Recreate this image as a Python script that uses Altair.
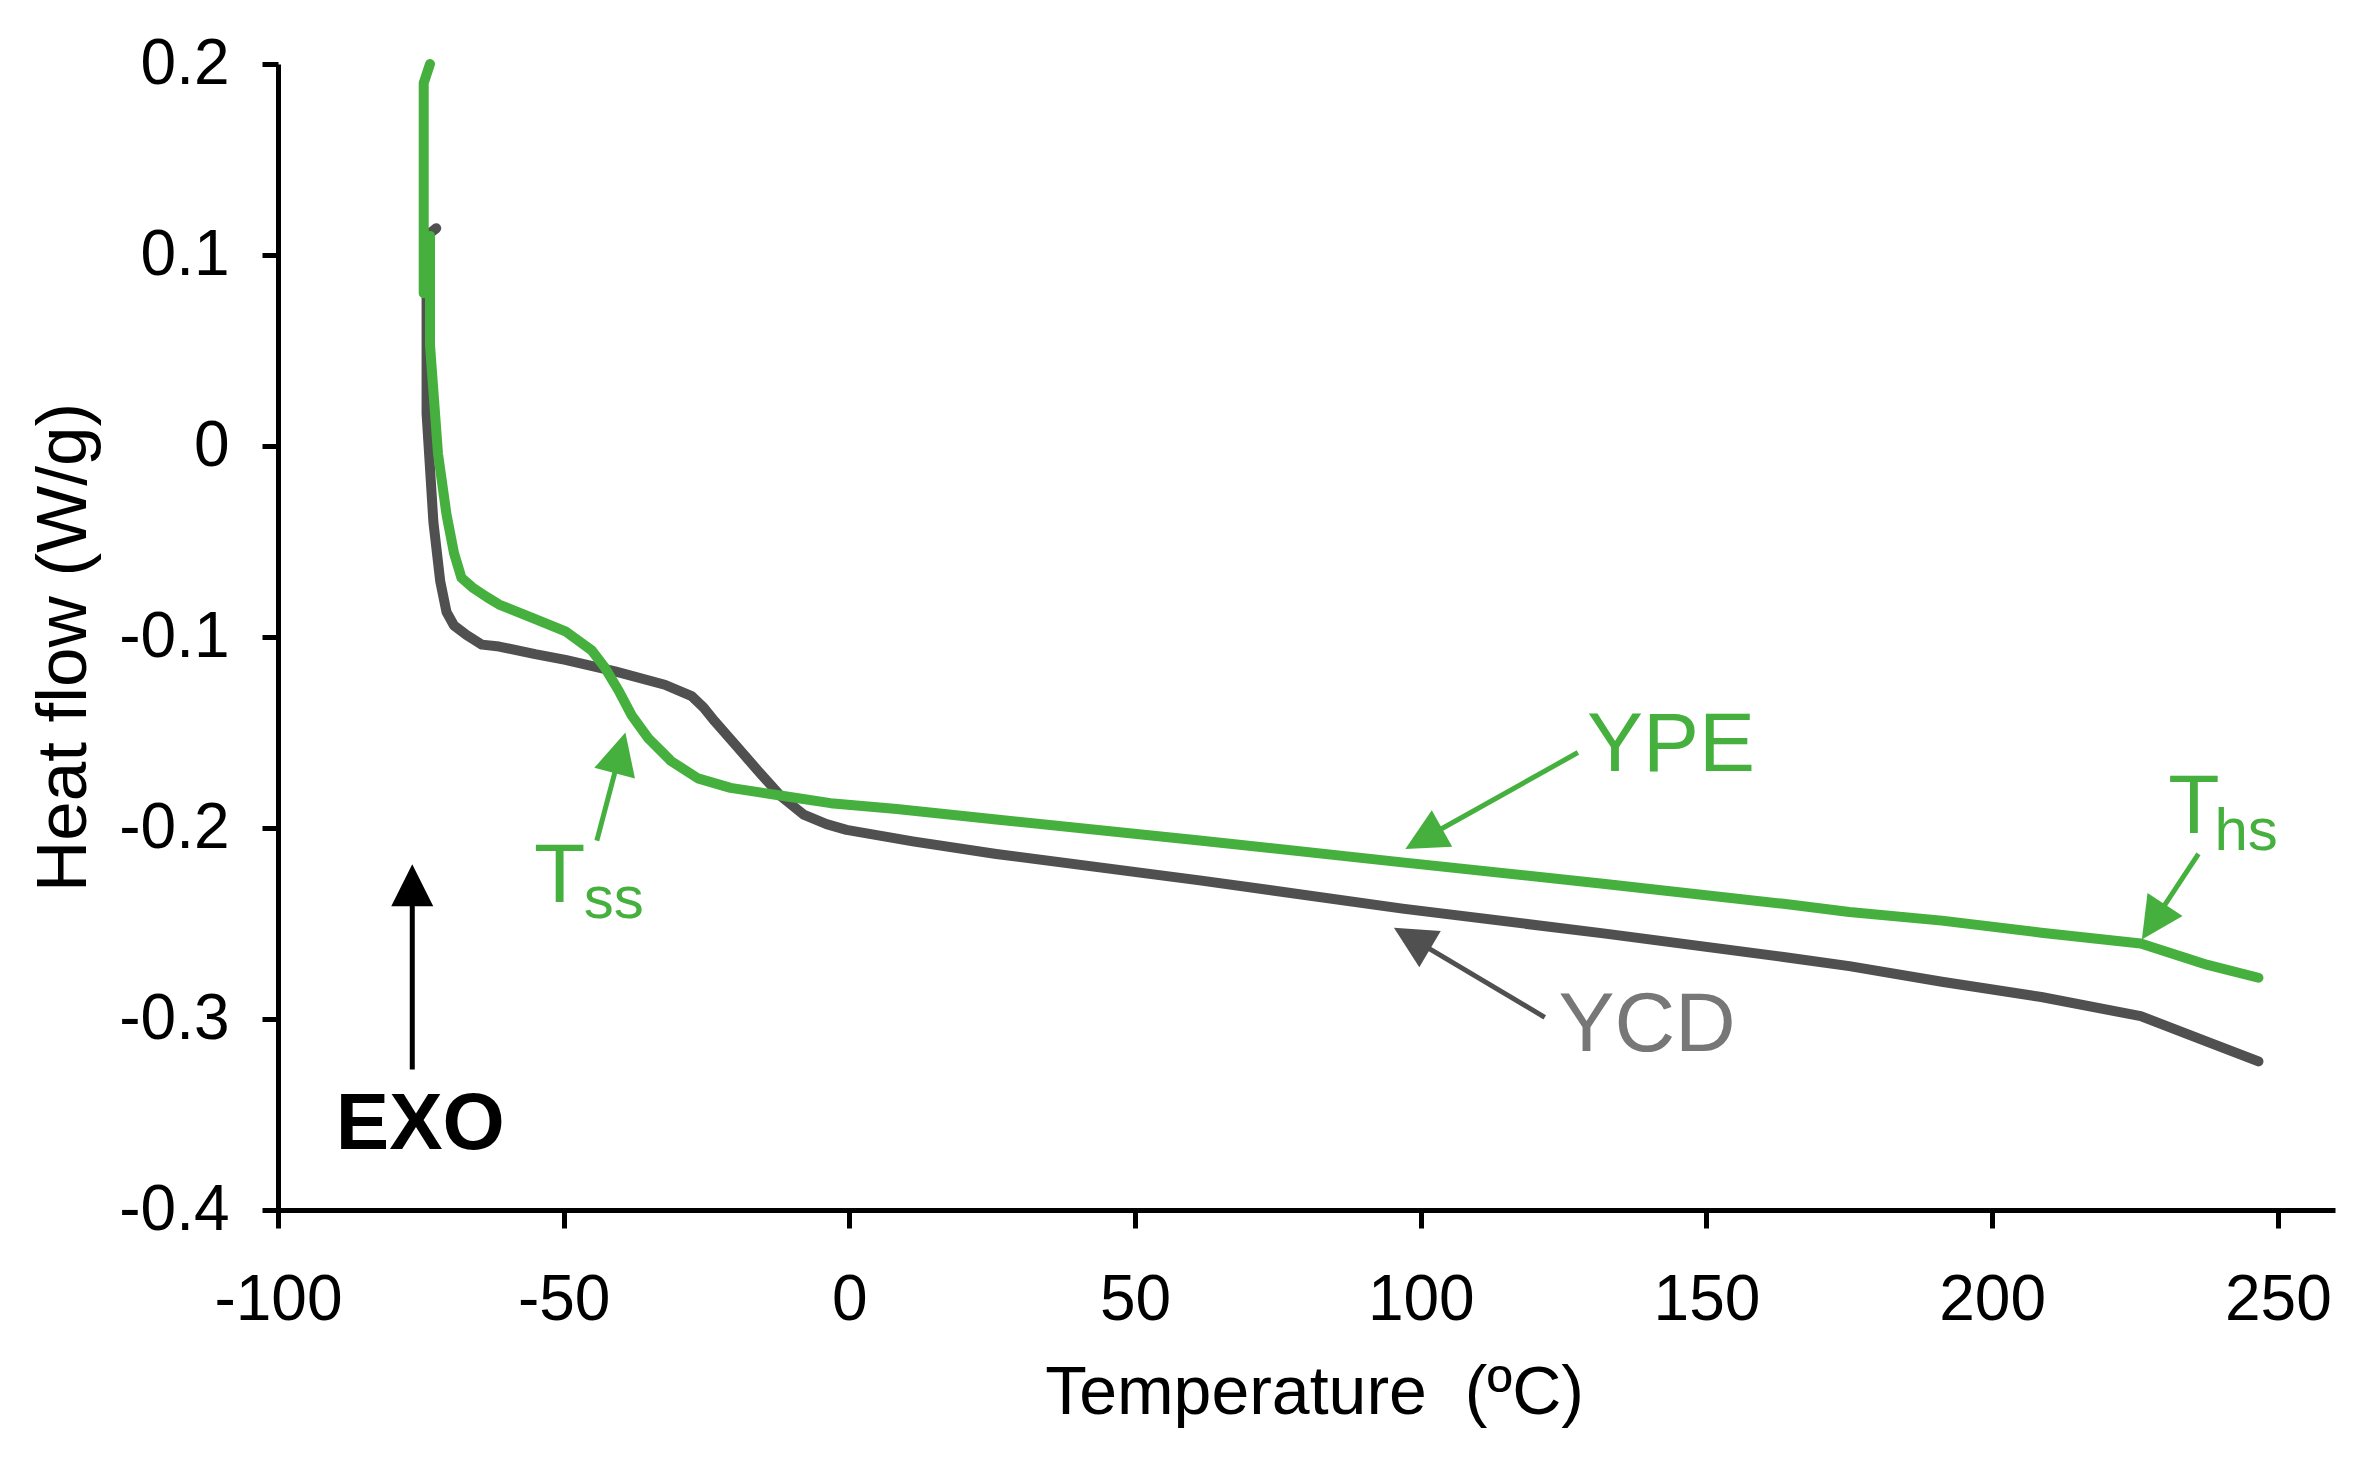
import math

import altair as alt
import pandas as pd

# DSC curves
YPE_T = [-73.4, -74.5, -74.5, -73.4, -73.4, -72.0, -70.5, -69.2, -67.9, -66.0,
         -63.5, -61.3, -55.5, -49.7, -45.1, -42.8, -40.4, -38.1, -35.2, -31.2,
         -26.5, -20.8, -12.1, -3.3, 8.3, 25.7, 61.3, 96.8, 132.3, 163.5,
         175.0, 191.2, 208.6, 226.0, 237.7, 246.6]
YPE_HF = [0.200, 0.190, 0.080, 0.110, 0.053, -0.004, -0.036, -0.056, -0.069, -0.074,
          -0.079, -0.083, -0.090, -0.097, -0.107, -0.116, -0.128, -0.141, -0.153, -0.165,
          -0.174, -0.179, -0.183, -0.187, -0.190, -0.1955, -0.2065, -0.218, -0.2293, -0.2397,
          -0.2440, -0.2485, -0.2548, -0.2605, -0.2717, -0.2784]

YCD_T = [-72.3, -74.0, -74.0, -72.8, -71.6, -70.5, -69.2, -67.0, -64.3, -61.3,
         -55.0, -49.7, -41.0, -32.3, -27.6, -25.5, -23.6, -19.5, -16.0, -12.1,
         -8.0, -4.0, -0.5, 11.1, 25.7, 61.3, 96.8, 132.3, 163.5, 175.0,
         191.2, 208.6, 226.0, 237.7, 246.6]
YCD_HF = [0.114, 0.110, 0.017, -0.040, -0.071, -0.087, -0.094, -0.099, -0.104, -0.105,
          -0.109, -0.112, -0.118, -0.125, -0.131, -0.137, -0.144, -0.158, -0.170, -0.183,
          -0.193, -0.198, -0.201, -0.207, -0.2136, -0.2274, -0.2422, -0.2553, -0.2675, -0.2723,
          -0.2805, -0.2885, -0.2985, -0.3120, -0.3222]

X_TICKS = [-100, -50, 0, 50, 100, 150, 200, 250]
Y_TICKS = [-0.4, -0.3, -0.2, -0.1, 0.0, 0.1, 0.2]

# annotations (data coordinates)
LABEL_TEXT = ["YPE", "T", "T", "ss", "hs", "YCD", "EXO"]
LABEL_X = [143.8, -50.7, 235.3, -46.5, 238.9, 139.6, -75.1]
LABEL_Y = [-0.170, -0.2388, -0.2028, -0.247, -0.2117, -0.3165, -0.368]
LABEL_GROUP = ["green", "green", "green", "sub", "sub", "gray", "exo"]

ARROW_TAIL_X = [127.5, 121.7, -44.2, 236.1, -76.5]
ARROW_TAIL_Y = [-0.1605, -0.2991, -0.2066, -0.2136, -0.3265]
ARROW_TIP_X = [97.3, 95.3, -39.2, 226.2, -76.5]
ARROW_TIP_Y = [-0.2110, -0.2522, -0.150, -0.2584, -0.219]
ARROW_COLOR = ["#45b03d", "#505050", "#45b03d", "#45b03d", "#000000"]

GREEN = "#45b03d"
DARK = "#505050"
FONT = "Liberation Sans"

X_DOM = [-100, 260]
Y_DOM = [-0.4, 0.2]
W, H = 2057, 1146
HEAD = 42

sx = W / (X_DOM[1] - X_DOM[0])
sy = H / (Y_DOM[1] - Y_DOM[0])

rows = []
for tx, ty, hx, hy, c in zip(ARROW_TAIL_X, ARROW_TAIL_Y, ARROW_TIP_X, ARROW_TIP_Y, ARROW_COLOR):
    dxp = (hx - tx) * sx
    dyp = -(hy - ty) * sy
    ln = math.hypot(dxp, dyp)
    ux, uy = dxp / ln, dyp / ln
    cx = hx - (HEAD / 2) * ux / sx
    cy = hy + (HEAD / 2) * uy / sy
    ang = math.degrees(math.atan2(ux, -uy)) % 360
    rows.append({"x": tx, "y": ty, "cx": cx, "cy": cy, "angle": ang, "color": c})
arrows = pd.DataFrame(rows)

ype = pd.DataFrame({"i": range(len(YPE_T)), "t": YPE_T, "hf": YPE_HF})
ycd = pd.DataFrame({"i": range(len(YCD_T)), "t": YCD_T, "hf": YCD_HF})
labels = pd.DataFrame({"text": LABEL_TEXT, "x": LABEL_X, "y": LABEL_Y, "g": LABEL_GROUP})

x_enc = alt.X(
    "t:Q", scale=alt.Scale(domain=X_DOM, nice=False, zero=False),
    axis=alt.Axis(
        values=X_TICKS, title="Temperature\u00a0 (ºC)", grid=False,
        labelExpr="(datum.value < 0 ? '-' : '') + format(abs(datum.value), 'd')",
        tickSize=18, labelPadding=40, titleX=1036, titleY=183, titleBaseline="middle",
    ),
)
y_enc = alt.Y(
    "hf:Q", scale=alt.Scale(domain=Y_DOM, nice=False, zero=False),
    axis=alt.Axis(
        values=Y_TICKS, title="Heat flow (W/g)", grid=False,
        labelExpr="datum.value == 0 ? '0' : (datum.value < 0 ? '-' : '') + format(abs(datum.value), '.1f')",
        tickSize=16, labelPadding=33, titleX=-214, titleY=583, titleBaseline="middle",
        titleFontSize=71,
    ),
)

line_ycd = alt.Chart(ycd).mark_line(
    color=DARK, strokeWidth=10, strokeCap="round", strokeJoin="round"
).encode(x=x_enc, y=y_enc, order="i:Q")
line_ype = alt.Chart(ype).mark_line(
    color=GREEN, strokeWidth=10, strokeCap="round", strokeJoin="round"
).encode(x="t:Q", y="hf:Q", order="i:Q")

shafts = alt.Chart(arrows).mark_rule(strokeWidth=5).encode(
    x="x:Q", y="y:Q", x2="cx:Q", y2="cy:Q",
    color=alt.Color("color:N", scale=None),
)
heads = alt.Chart(arrows).mark_point(
    shape="M0,-1L1,1L-1,1Z", filled=True, size=HEAD * HEAD, opacity=1, strokeWidth=0
).encode(
    x="cx:Q", y="cy:Q",
    angle=alt.Angle("angle:Q", scale=None),
    color=alt.Color("color:N", scale=None),
)


def text_layer(group, color, size, align="center", weight="normal"):
    return alt.Chart(labels).transform_filter(
        alt.datum.g == group
    ).mark_text(
        font=FONT, fontSize=size, color=color, align=align,
        baseline="alphabetic", fontWeight=weight,
    ).encode(x="x:Q", y="y:Q", text="text:N")


chart = alt.layer(
    line_ycd, line_ype, shafts, heads,
    text_layer("green", GREEN, 84),
    text_layer("sub", GREEN, 60, align="left"),
    text_layer("gray", "#777777", 84),
    text_layer("exo", "#000000", 80, weight="bold"),
).properties(
    width=W, height=H,
    autosize=alt.AutoSizeParams(type="none"),
    padding={"left": 270, "top": 56, "right": 25, "bottom": 244},
).configure_view(
    stroke=None
).configure_axis(
    labelFont=FONT, titleFont=FONT, labelFontSize=64, titleFontSize=68,
    labelColor="#000000", titleColor="#000000", titleFontWeight="normal",
    domainColor="#000000", tickColor="#000000", domainWidth=5, tickWidth=5,
    labelFlush=False, labelOverlap=False,
)

chart.save("out.html", embed_options={"renderer": "svg", "actions": False})
